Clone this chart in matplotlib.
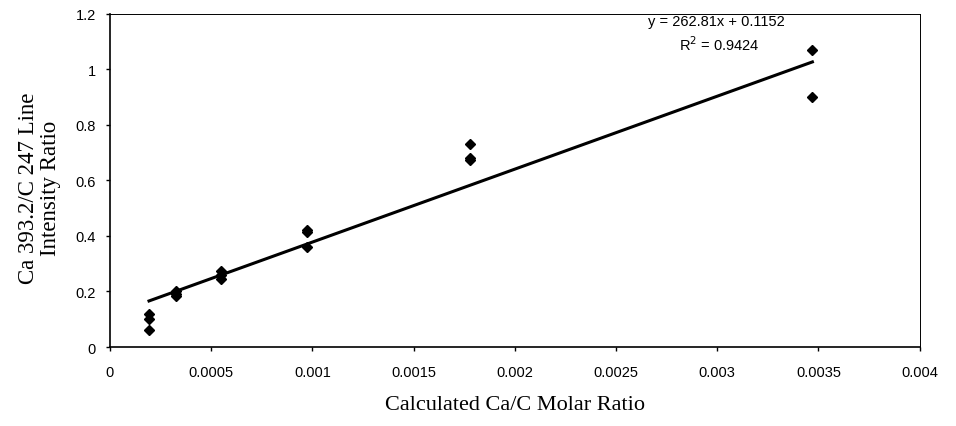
import matplotlib.pyplot as plt
import numpy as np

# Ca/C molar ratio vs. Ca 393.2 / C 247 line intensity ratio
molar_ratio = [0.000193, 0.000193, 0.000193,
               0.000326, 0.000326, 0.000326,
               0.000550, 0.000550, 0.000550,
               0.000973, 0.000973, 0.000973,
               0.001780, 0.001780, 0.001780,
               0.003470, 0.003470]
intensity_ratio = [0.119, 0.100, 0.061,
                   0.200, 0.190, 0.185,
                   0.275, 0.260, 0.245,
                   0.420, 0.413, 0.360,
                   0.730, 0.680, 0.675,
                   1.070, 0.902]

slope = 262.81
intercept = 0.1152
r_squared = 0.9424

x_ticks = [0, 0.0005, 0.001, 0.0015, 0.002, 0.0025, 0.003, 0.0035, 0.004]
x_tick_labels = ["0", "0.0005", "0.001", "0.0015", "0.002", "0.0025", "0.003", "0.0035", "0.004"]
y_ticks = [0, 0.2, 0.4, 0.6, 0.8, 1.0, 1.2]
y_tick_labels = ["0", "0.2", "0.4", "0.6", "0.8", "1", "1.2"]

fig = plt.figure(figsize=(9.56, 4.27), dpi=100)
ax = fig.add_axes([0.115, 0.185, 0.847, 0.780])

ax.plot(molar_ratio, intensity_ratio, linestyle="none", marker="D",
        markersize=5, color="black", zorder=3)

# linear trendline over the data range
xs = np.array([min(molar_ratio), max(molar_ratio)])
ax.plot(xs, slope * xs + intercept, color="black", linewidth=2.2)

ax.set_xlim(0, 0.004)
ax.set_ylim(0, 1.2)
ax.set_xticks(x_ticks)
ax.set_xticklabels(x_tick_labels, fontfamily="Liberation Sans", fontsize=10.5)
ax.set_yticks(y_ticks)
ax.set_yticklabels(y_tick_labels, fontfamily="Liberation Sans", fontsize=10.5)
ax.tick_params(direction="out", length=3, width=1, colors="black")
ax.tick_params(axis="x", pad=10)
ax.tick_params(axis="y", pad=7)

for side in ["left", "bottom"]:
    ax.spines[side].set_linewidth(1.2)
for side in ["top", "right"]:
    ax.spines[side].set_linewidth(0.7)

ax.set_xlabel("Calculated Ca/C Molar Ratio", fontfamily="Liberation Serif",
              fontsize=16)
ax.xaxis.set_label_coords(0.5, -0.145)
ax.set_ylabel("Ca 393.2/C 247 Line\nIntensity Ratio", fontfamily="Liberation Serif",
              fontsize=16.5, linespacing=1.1)
ax.yaxis.set_label_coords(-0.06, 0.48)

ax.text(0.749, 0.978, f"y = {slope}x + {intercept}", transform=ax.transAxes,
        ha="center", va="center", fontfamily="Liberation Sans", fontsize=10.5)
ax.text(0.752, 0.912, f"R$^2$ = {r_squared}", transform=ax.transAxes,
        ha="center", va="center", fontfamily="Liberation Sans", fontsize=10.5)

fig.savefig("out.png", dpi=100)
